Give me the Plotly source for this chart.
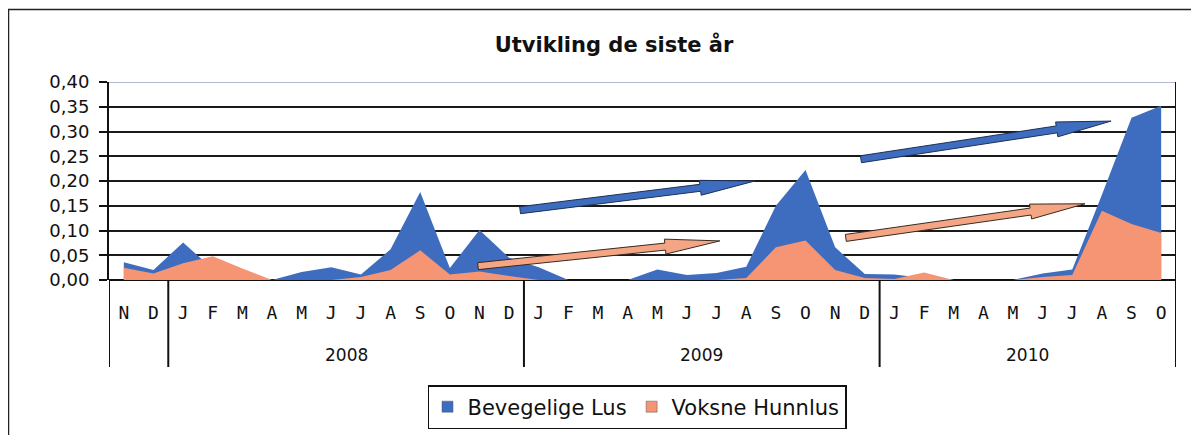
import plotly.graph_objects as go

# ---------------- data ----------------
months = ["N", "D",
          "J", "F", "M", "A", "M", "J", "J", "A", "S", "O", "N", "D",
          "J", "F", "M", "A", "M", "J", "J", "A", "S", "O", "N", "D",
          "J", "F", "M", "A", "M", "J", "J", "A", "S", "O"]
year_labels = ["", "2008", "2009", "2010"]
year_sizes = [2, 12, 12, 10]
series_names = ["Bevegelige Lus", "Voksne Hunnlus"]

bevegelige_lus = [0.036, 0.020,
                  0.076, 0.022, 0.005, 0.000, 0.016, 0.026, 0.011, 0.062, 0.178, 0.024, 0.101, 0.045,
                  0.026, 0.000, 0.000, 0.000, 0.021, 0.010, 0.014, 0.027, 0.150, 0.222, 0.066, 0.012,
                  0.011, 0.004, 0.000, 0.000, 0.000, 0.013, 0.021, 0.172, 0.328, 0.352]
voksne_hunnlus = [0.025, 0.013,
                  0.034, 0.048, 0.023, 0.000, 0.000, 0.000, 0.006, 0.020, 0.060, 0.011, 0.017, 0.008,
                  0.000, 0.000, 0.000, 0.000, 0.000, 0.000, 0.000, 0.004, 0.066, 0.080, 0.020, 0.004,
                  0.002, 0.015, 0.000, 0.000, 0.000, 0.006, 0.010, 0.140, 0.113, 0.095]
y_ticks = [0.00, 0.05, 0.10, 0.15, 0.20, 0.25, 0.30, 0.35, 0.40]

# trend arrows (tail x, tail y, tip x, tip y) in category index / value units
blue_arrows = [(13.37, 0.141, 21.29, 0.200), (24.87, 0.244, 33.31, 0.321)]
orange_arrows = [(11.95, 0.028, 20.11, 0.079), (24.36, 0.085, 32.43, 0.154)]

BLUE = "#3E6DBF"
ORANGE = "#F59574"

OFF = 8                      # page body margin
W, H = 1199 - OFF, 435 - OFF
ML, MR, MT, MB = 109 - OFF, 23, 82 - OFF, 155
PW, PH = W - ML - MR, H - MT - MB
PLOT_BOTTOM = MT + PH + OFF  # page y of value 0


def paper_y(py):
    return (PLOT_BOTTOM - py) / PH


def paper_x(px):
    return (px - ML - OFF) / PW


x = list(range(len(months)))
xr = [-0.5, len(months) - 0.5]
yr = [0, 0.40]
sx = PW / (xr[1] - xr[0])
sy = PH / (yr[1] - yr[0])

fig = go.Figure()
for name, vals, col in [(series_names[0], bevegelige_lus, BLUE),
                        (series_names[1], voksne_hunnlus, ORANGE)]:
    fig.add_trace(go.Scatter(x=x, y=vals, name=name, mode="none", fill="tozeroy",
                             fillcolor=col, showlegend=False, legendgroup=name))
# legend keys as small squares
for name, col in [(series_names[0], BLUE), (series_names[1], ORANGE)]:
    fig.add_trace(go.Scatter(x=[None], y=[None], name=name, mode="markers", legendgroup=name,
                             marker=dict(symbol="square", size=11, color=col,
                                         line=dict(color="#555", width=0.5))))


def arrow_path(x0, y0, x1, y1, shaft=3.5, head=7.5, headlen=55):
    X0, Y0, X1, Y1 = x0 * sx, -y0 * sy, x1 * sx, -y1 * sy
    dx, dy = X1 - X0, Y1 - Y0
    L = (dx * dx + dy * dy) ** 0.5
    ux, uy = dx / L, dy / L
    nx, ny = -uy, ux
    bx, by = X1 - ux * headlen, Y1 - uy * headlen
    pts = [(X0 + nx * shaft, Y0 + ny * shaft), (bx + nx * shaft, by + ny * shaft),
           (bx + nx * head, by + ny * head), (X1, Y1),
           (bx - nx * head, by - ny * head), (bx - nx * shaft, by - ny * shaft),
           (X0 - nx * shaft, Y0 - ny * shaft)]
    return "M " + " L ".join(f"{px / sx:.4f},{-py / sy:.5f}" for px, py in pts) + " Z"


shapes = []
for a in blue_arrows:
    shapes.append(dict(type="path", xref="x", yref="y", path=arrow_path(*a),
                       fillcolor=BLUE, line=dict(color="#1f2f55", width=1), layer="above"))
for a in orange_arrows:
    shapes.append(dict(type="path", xref="x", yref="y", path=arrow_path(*a),
                       fillcolor="#F4A584", line=dict(color="#3a2a20", width=1), layer="above"))

# light top border of plot area
shapes.append(dict(type="line", xref="x", yref="y", x0=xr[0], x1=xr[1], y0=yr[1], y1=yr[1],
                   line=dict(color="#b4b8cc", width=2), layer="above"))

# group dividers on the category axis
bottom = paper_y(367)
edges = [xr[0]]
for n in year_sizes:
    edges.append(edges[-1] + n)
for e in edges:
    shapes.append(dict(type="line", xref="x", yref="paper", x0=e, x1=e, y0=0, y1=bottom,
                       line=dict(color="#111", width=2)))
shapes.append(dict(type="line", xref="x", yref="paper", x0=xr[1], x1=xr[1], y0=0, y1=1,
                   line=dict(color="#111", width=2)))

# outer chart frame
shapes.append(dict(type="rect", xref="paper", yref="paper",
                   x0=paper_x(8.5), x1=paper_x(1220),
                   y0=paper_y(460), y1=paper_y(9.5),
                   line=dict(color="#222", width=1.5), fillcolor="rgba(0,0,0,0)"))

annotations = []
start = 0
for lab, n in zip(year_labels, year_sizes):
    if lab:
        annotations.append(dict(text=lab, x=start + (n - 1) / 2, xref="x",
                                y=paper_y(355), yref="paper", yanchor="middle",
                                showarrow=False,
                                font=dict(family="DejaVu Sans", size=17, color="#111")))
    start += n

fig.update_layout(
    width=W, height=H,
    margin=dict(l=ML, r=MR, t=MT, b=MB, autoexpand=False),
    paper_bgcolor="white", plot_bgcolor="white",
    separators=",.",
    font=dict(family="DejaVu Sans", color="#111"),
    title=dict(text="<b>Utvikling de siste år</b>", x=(614 - OFF) / W, xanchor="center",
               xref="container", yref="container",
               y=1 - (45 - OFF) / H, yanchor="middle", font=dict(size=21, family="DejaVu Sans")),
    xaxis=dict(range=xr, tickvals=x, ticktext=months, showgrid=False, zeroline=False,
               showline=False, ticks="", ticklabelstandoff=20,
               tickfont=dict(family="DejaVu Sans Mono", size=18, color="#111")),
    yaxis=dict(range=yr, tickvals=y_ticks, tickformat=".2f", showgrid=True,
               gridcolor="#1a1a1a", gridwidth=2, zeroline=True, zerolinecolor="#111",
               zerolinewidth=2, showline=True, linecolor="#111", linewidth=2,
               ticks="outside", ticklen=8, tickwidth=2, tickcolor="#111",
               ticklabelstandoff=6, tickfont=dict(size=18, family="DejaVu Sans")),
    legend=dict(orientation="h", x=paper_x(637), xanchor="center", y=paper_y(385),
                yanchor="top", bordercolor="#111", borderwidth=1.5, itemwidth=30,
                tracegroupgap=0, font=dict(size=21, family="DejaVu Sans")),
    shapes=shapes, annotations=annotations, showlegend=True,
)

fig.write_html("out.html", config=dict(displayModeBar=False))
